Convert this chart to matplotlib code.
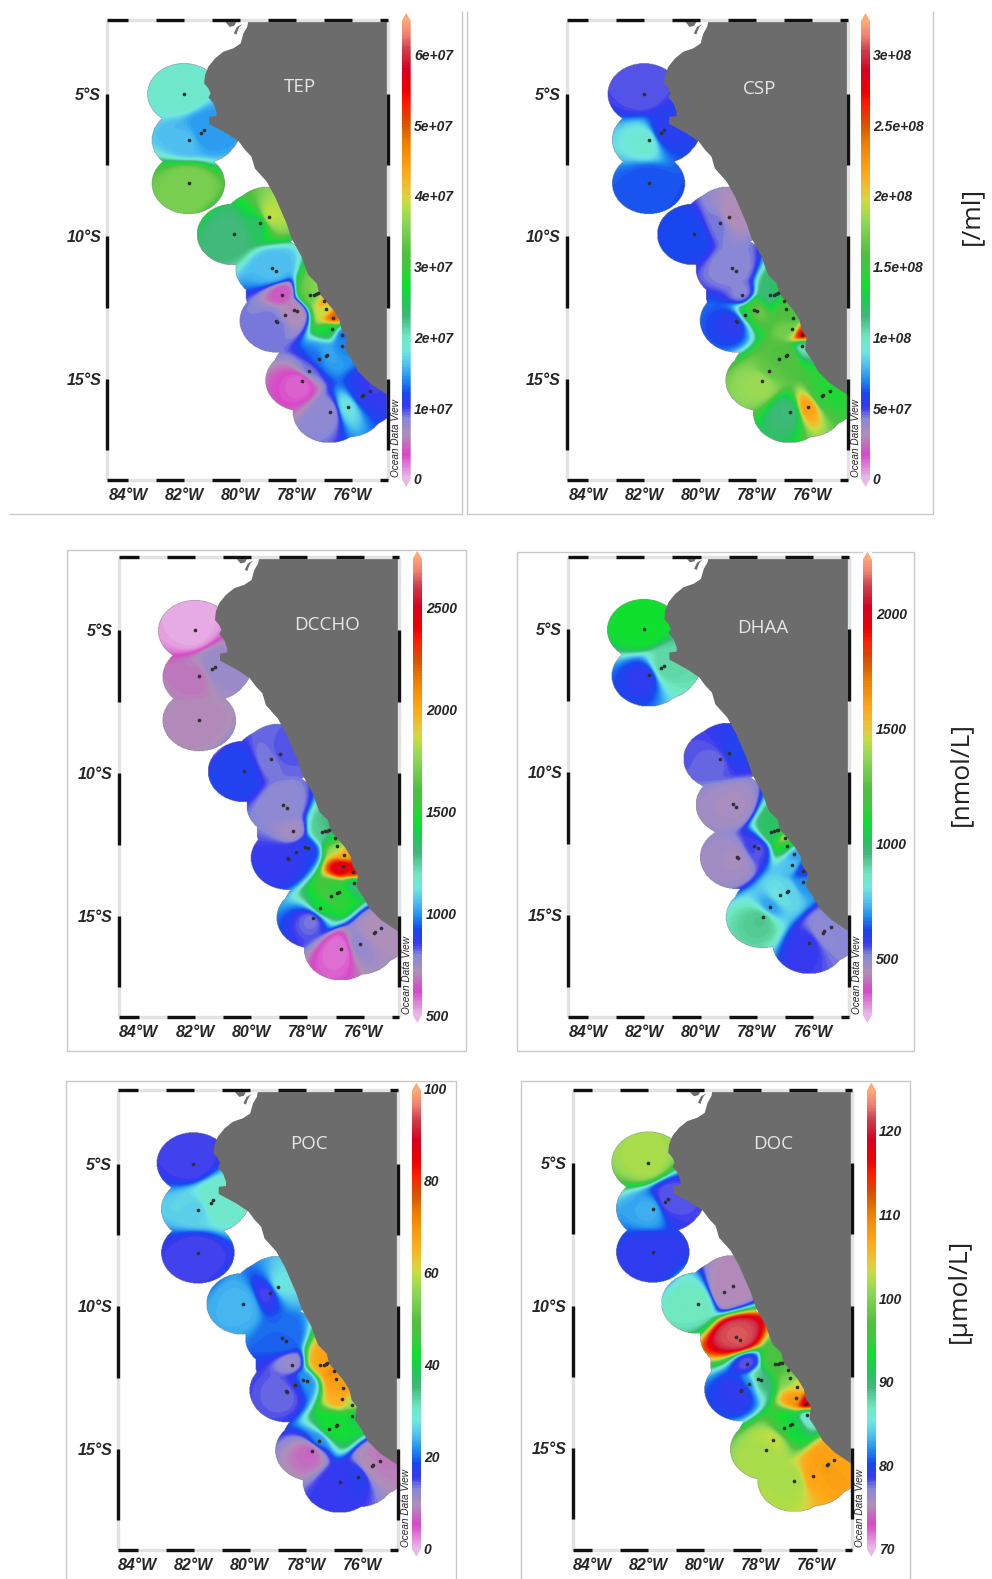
import numpy as np
import matplotlib
matplotlib.use("Agg")
import matplotlib.pyplot as plt
from matplotlib.colors import LinearSegmentedColormap, Normalize
from matplotlib.patches import Polygon

W, H = 992, 1579
nan = float("nan")

# ---- data -------------------------------------------------------------
station_lon = [-82.01, -81.30, -81.39, -81.85, -81.85, -78.99, -79.30, -80.24, -78.86, -78.73,
               -78.50, -77.50, -77.38, -77.30, -77.24, -77.02, -76.94, -78.10, -77.98, -78.40,
               -76.69, -78.71, -78.69, -76.74, -76.38, -76.36, -76.89, -76.94, -77.18, -77.54,
               -77.79, -75.37, -75.61, -75.65, -76.14, -76.81]
station_lat = [-5.00, -6.27, -6.37, -6.61, -8.14, -9.33, -9.52, -9.93, -11.12, -11.21,
               -12.04, -12.07, -12.04, -12.02, -12.00, -12.28, -12.56, -12.59, -12.63, -12.75,
               -12.85, -12.96, -13.00, -13.25, -13.45, -13.84, -14.15, -14.19, -14.29, -14.71,
               -15.06, -15.41, -15.55, -15.61, -15.97, -16.17]

tep = [1.95e7, 1.45e7, 1.45e7, 1.6e7, 3.5e7, 3.9e7, 2.4e7, 2.3e7, 1.6e7, 1.6e7,
       0.4e7, 3.3e7, 3.5e7, 3.6e7, 3.6e7, 4.5e7, 3.8e7, 0.55e7, 0.6e7, 0.65e7,
       5.0e7, 0.9e7, 0.9e7, 2.6e7, 1.3e7, 1.4e7, 1.5e7, 1.5e7, 1.3e7, 0.9e7,
       0.25e7, 1.0e7, 1.1e7, 1.1e7, 1.8e7, 0.8e7]
csp = [0.475e8, 0.55e8, 0.55e8, 0.95e8, 0.62e8, 0.30e8, 0.45e8, 0.60e8, 0.42e8, 0.42e8,
       0.42e8, 1.15e8, 1.15e8, 1.2e8, 1.3e8, 1.5e8, 1.6e8, 1.55e8, 1.7e8, 1.3e8,
       1.6e8, 0.52e8, 0.52e8, 1.7e8, 2.8e8, 1.0e8, 1.6e8, 1.6e8, 1.6e8, 1.65e8,
       1.85e8, 1.4e8, 1.45e8, 1.45e8, 2.2e8, 1.15e8]
dcc = [520, 760, 760, 680, 710, 830, 800, 900, 780, 780,
       740, 1250, 1250, 1300, 1300, 1500, 1800, 880, 900, 870,
       2000, 860, 860, 2500, 2400, 1300, 1500, 1500, 1550, 1450,
       800, 720, 720, 720, 770, 580]
dha = [1100, 900, 900, 570, nan, 600, 530, nan, 460, 460,
       nan, 1000, 1000, 1000, 1000, 1450, 1050, 560, 540, nan,
       700, 460, 460, 750, 590, 690, 780, 780, 800, 700,
       930, 510, 500, 500, 570, nan]
poc = [15, 30, 30, 26, 15, 28, 15, 24, 20, 20,
       12, 66, 68, 68, 68, 72, 68, 22, 22, 16,
       68, 14, 14, 66, 58, 40, 42, 42, 42, 22,
       7, 8, 9, 9, 17, 16]
doc = [102, 78, 78, 83, 79, 75, 75, 87, 122, 122,
       78, 96, 96, 97, 97, 98, 100, 88, 90, 82,
       104, 79, 79, 108, 120, 85, 92, 92, 95, 103,
       102, 107, 107, 108, 107, 102]

coast_lon = [-79.71, -79.75, -79.89, -79.99, -80.25, -80.61, -80.90, -81.14, -81.26, -81.29,
             -81.14, -81.06, -81.14, -80.96, -80.85, -80.85, -81.11, -81.11, -80.49, -80.05,
             -79.83, -79.60, -79.48, -79.06, -78.76, -78.58, -78.35, -78.17, -77.81, -77.69,
             -77.57, -77.27, -77.18, -76.98, -76.68, -76.46, -76.38, -76.20, -76.26, -76.02,
             -75.79, -75.37, -74.5, -74.5]
coast_lat = [-2.42, -2.65, -2.89, -3.24, -3.41, -3.53, -3.76, -4.05, -4.35, -4.64,
             -4.81, -4.99, -5.13, -5.34, -5.63, -5.78, -5.81, -6.06, -6.39, -6.68,
             -6.97, -7.21, -7.62, -8.08, -8.61, -9.02, -9.54, -10.07, -10.71, -11.06,
             -11.36, -11.65, -12.00, -12.23, -12.58, -12.93, -13.28, -13.52, -13.98, -14.33,
             -14.74, -15.15, -15.72, -2.42]
gulf_lon = [-80.62, -80.08, -80.22, -80.38]
gulf_lat = [-2.38, -2.38, -2.62, -2.66]
island_lon = [-80.23, -80.12, -79.93, -80.03, -80.09, -80.14]
island_lat = [-2.88, -2.66, -2.56, -2.66, -2.78, -2.93]

lon_ticks = [-84, -82, -80, -78, -76]
lon_labels = ["84°W", "82°W", "80°W", "78°W", "76°W"]
lat_ticks = [-5, -10, -15]
lat_labels = ["5°S", "10°S", "15°S"]

cmap_values = [0, .33, .6, .84, 1.0, 1.2, 1.4, 1.6, 1.8, 2.0, 2.3, 2.5, 2.75, 3.0, 3.2, 3.65, 3.9, 4.0,
               4.35, 4.75, 5.05, 5.3, 5.5, 5.8, 6.1, 6.3, 6.5]
cmap_colors = ["#E8B8E8", "#D848C8", "#B090B8", "#8888D8", "#3838F0", "#1848F0", "#2090F0", "#50C0F0",
               "#70E8E0", "#70E8C0", "#40B878", "#20C858", "#10E030", "#40C840", "#50C040", "#90D858",
               "#C0E040", "#E0D040", "#FFA818", "#F08000", "#D85000", "#FF2000", "#F00000", "#D80020",
               "#D04050", "#F08070", "#FFA878"]
odv = LinearSegmentedColormap.from_list(
    "odv", [(v / 6.5, c) for v, c in zip(cmap_values, cmap_colors)], N=180)

panels = [
    dict(name="TEP", vals=tep, vmin=0, vmax=6.5e7, frame=(107.3, 388, 20, 480), x82=184.3, x76=352.3, y5=93.7, y15=379,
         cb=(401.7, 410.7, 13, 487), cby=(0, 479, 6e7, 54.3), ticks=[0, 1e7, 2e7, 3e7, 4e7, 5e7, 6e7],
         tl=["0", "1e+07", "2e+07", "3e+07", "4e+07", "5e+07", "6e+07"], lx=415, title=(300, 87)),
    dict(name="CSP", vals=csp, vmin=0, vmax=3.24e8, frame=(567, 848, 20, 480), x82=644.3, x76=812.3, y5=93.7, y15=379,
         cb=(861, 870, 13, 487), cby=(0, 479, 3e8, 54.3), ticks=[0, .5e8, 1e8, 1.5e8, 2e8, 2.5e8, 3e8],
         tl=["0", "5e+07", "1e+08", "1.5e+08", "2e+08", "2.5e+08", "3e+08"], lx=874, title=(760, 89)),
    dict(name="DCCHO", vals=dcc, vmin=500, vmax=2750, frame=(119, 399, 556.7, 1016.7), x82=195, x76=363.7, y5=630.3, y15=916,
         cb=(412.7, 422, 550.7, 1023), cby=(500, 1015.7, 2500, 607.3), ticks=[500, 1000, 1500, 2000, 2500],
         tl=["500", "1000", "1500", "2000", "2500"], lx=426.7, title=(327, 625)),
    dict(name="DHAA", vals=dha, vmin=250, vmax=2245, frame=(568.3, 849, 556.7, 1016.7), x82=644.3, x76=813.3, y5=629.3, y15=915.3,
         cb=(862.7, 872, 551.7, 1023), cby=(500, 958.3, 2000, 613.3), ticks=[500, 1000, 1500, 2000],
         tl=["500", "1000", "1500", "2000"], lx=876.7, title=(763, 628)),
    dict(name="POC", vals=poc, vmin=0, vmax=100, frame=(118.3, 397.7, 1090, 1550), x82=193.7, x76=362.3, y5=1163.7, y15=1449,
         cb=(411.7, 421, 1082.7, 1556.7), cby=(0, 1549, 100, 1089), ticks=[0, 20, 40, 60, 80, 100],
         tl=["0", "20", "40", "60", "80", "100"], lx=425, title=(309, 1144)),
    dict(name="DOC", vals=doc, vmin=70, vmax=125, frame=(573, 852.3, 1090, 1550), x82=648.3, x76=816.7, y5=1163, y15=1448,
         cb=(866.7, 876, 1082.7, 1556.7), cby=(70, 1549, 120, 1130.7), ticks=[70, 80, 90, 100, 110, 120],
         tl=["70", "80", "90", "100", "110", "120"], lx=880, title=(773, 1144)),
]

boxes = [
    [(9, 514), (461.5, 514), (461.5, 11)],
    [(466.5, 11), (466.5, 514), (932.5, 514), (932.5, 11)],
    [(66.7, 550), (465.7, 550), (465.7, 1051), (66.7, 1051), (66.7, 550)],
    [(516.7, 551.7), (914, 551.7), (914, 1051), (516.7, 1051), (516.7, 551.7)],
    [(65.7, 1579), (65.7, 1080.7), (456, 1080.7), (456, 1579)],
    [(520.7, 1579), (520.7, 1080.7), (910, 1080.7), (910, 1579)],
]
units = [("[/ml]", 972, 216), ("[nmol/L]", 961, 774), ("[µmol/L]", 959, 1291)]

# ---- helpers -------------------------------------------------------------
EPS = 0.30
POWER = 3.6
RX, RY = 1.30, 1.07
glon = np.arange(-85.0, -74.4, 0.02)
glat = np.arange(-19.0, -2.0, 0.02)
LON, LAT = np.meshgrid(glon, glat)


def interpolate(vals):
    vals = np.asarray(vals, float)
    ok = ~np.isnan(vals)
    lo = np.asarray(station_lon)[ok]
    la = np.asarray(station_lat)[ok]
    v = vals[ok]
    num = np.zeros_like(LON)
    den = np.zeros_like(LON)
    inside = np.zeros_like(LON, bool)
    for x, y, z in zip(lo, la, v):
        d2 = (LON - x) ** 2 + (LAT - y) ** 2
        w = 1.0 / (d2 + EPS ** 2) ** POWER
        num += w * z
        den += w
        inside |= ((LON - x) / RX) ** 2 + ((LAT - y) / RY) ** 2 <= 1
    return np.ma.array(num / den, mask=~inside)


def px_axes(fig, l, r, t, b, **kw):
    return fig.add_axes([l / W, 1 - b / H, (r - l) / W, (b - t) / H], **kw)


FONT = ["Liberation Sans", "DejaVu Sans"]
fig = plt.figure(figsize=(W / 100, H / 100), dpi=100, facecolor="white")

bg = fig.add_axes([0, 0, 1, 1], zorder=0)
bg.set_xlim(0, W)
bg.set_ylim(H, 0)
bg.axis("off")
top = fig.add_axes([0, 0, 1, 1], zorder=5)
top.set_xlim(0, W)
top.set_ylim(H, 0)
top.axis("off")
for pts in boxes:
    xs, ys = zip(*pts)
    bg.plot(xs, ys, color="#C9C9C9", lw=1.0, solid_capstyle="butt")
for text, x, y in units:
    top.text(x, y, text, rotation=90, ha="center", va="center", fontsize=19,
             family="Open Sans", color="#222222")

for p in panels:
    l, r, t, b = p["frame"]
    sx = (p["x76"] - p["x82"]) / 6.0
    sy = (p["y15"] - p["y5"]) / 10.0
    ax = px_axes(fig, l, r, t, b, zorder=2)
    xlim = (-82 + (l - p["x82"]) / sx, -82 + (r - p["x82"]) / sx)
    ylim = (-5 - (b - p["y5"]) / sy, -5 - (t - p["y5"]) / sy)
    ax.set_facecolor("white")

    norm = Normalize(p["vmin"], p["vmax"])
    ax.imshow(interpolate(p["vals"]), extent=(glon[0], glon[-1], glat[0], glat[-1]), origin="lower",
              cmap=odv, norm=norm, interpolation="bilinear", aspect="auto", zorder=1)
    for plon, plat in ((coast_lon, coast_lat), (gulf_lon, gulf_lat), (island_lon, island_lat)):
        ax.add_patch(Polygon(np.c_[plon, plat], closed=True, fc="#6C6C6C", ec="none", zorder=2))

    v = np.asarray(p["vals"], float)
    keep = ~np.isnan(v)
    ax.scatter(np.asarray(station_lon)[keep], np.asarray(station_lat)[keep], s=7,
               color="#303030", linewidths=0, zorder=3)

    ax.set_xticks(lon_ticks)
    ax.set_xticklabels(lon_labels, fontsize=11.5, fontweight="bold", fontstyle="italic",
                       family=FONT, color="#262626")
    ax.set_yticks(lat_ticks)
    ax.set_yticklabels(lat_labels, fontsize=11.5, fontweight="bold", fontstyle="italic",
                       family=FONT, color="#262626")
    ax.tick_params(axis="x", length=0, pad=6)
    ax.tick_params(axis="y", length=0, pad=4.5)
    for s in ax.spines.values():
        s.set_visible(False)

    # ODV style frame: pale bar with black segments
    g = dict(color="#E2E2E2", lw=2.4, solid_capstyle="butt", clip_on=False, zorder=4)
    k = dict(color="#111111", lw=2.4, solid_capstyle="butt", clip_on=False, zorder=5)
    for yy in ylim:
        ax.plot(xlim, [yy, yy], **g)
        for a in range(-85, -74, 2):
            ax.plot([max(a, xlim[0]), min(a + 1, xlim[1])], [yy, yy], **k)
    for xx in xlim:
        ax.plot([xx, xx], ylim, **g)
        for a in (-5, -10, -15):
            ax.plot([xx, xx], [a, a - 2.5], **k)
    ax.set_xlim(xlim)
    ax.set_ylim(ylim)

    tx = -82 + (p["title"][0] - p["x82"]) / sx
    ty = -5 - (p["title"][1] - p["y5"]) / sy
    ax.text(tx, ty, p["name"], color="#E6E6E6", fontsize=13.5, ha="center", va="center",
            family="Open Sans", zorder=6)

    # colour bar
    cl, cr, ct, cb = p["cb"]
    v0, y0, v1, y1 = p["cby"]
    cax = px_axes(fig, cl, cr, ct, cb, zorder=2)
    per_px = (v1 - v0) / (y0 - y1)
    vbot = v0 - (cb - y0) * per_px
    vtop = v0 + (y0 - ct) * per_px
    grad = np.linspace(vbot, vtop, 500).reshape(-1, 1)
    im = cax.imshow(grad, extent=(0, 1, vbot, vtop), origin="lower", cmap=odv, norm=norm, aspect="auto")
    cax.set_xlim(0, 1)
    cax.set_ylim(vbot, vtop)
    tip = 8.0 / (cb - ct)
    clip = Polygon([(0, tip), (0.5, 0), (1, tip), (1, 1 - tip), (0.5, 1), (0, 1 - tip)],
                   closed=True, transform=cax.transAxes, fc="none", ec="none")
    cax.add_patch(clip)
    im.set_clip_path(clip)
    cax.set_xticks([])
    cax.yaxis.tick_right()
    cax.set_yticks(p["ticks"])
    cax.set_yticklabels(p["tl"], fontsize=10, fontweight="bold", fontstyle="italic",
                        family=FONT, color="#262626")
    cax.tick_params(length=0, pad=p["lx"] - cr - 2)
    for s in cax.spines.values():
        s.set_visible(False)

    top.text(r + 8, b - 3, "Ocean Data View", rotation=90, ha="center", va="bottom",
             fontsize=7.2, fontstyle="italic", family=FONT, color="#262626")

fig.savefig("out.png", dpi=100, facecolor="white")
